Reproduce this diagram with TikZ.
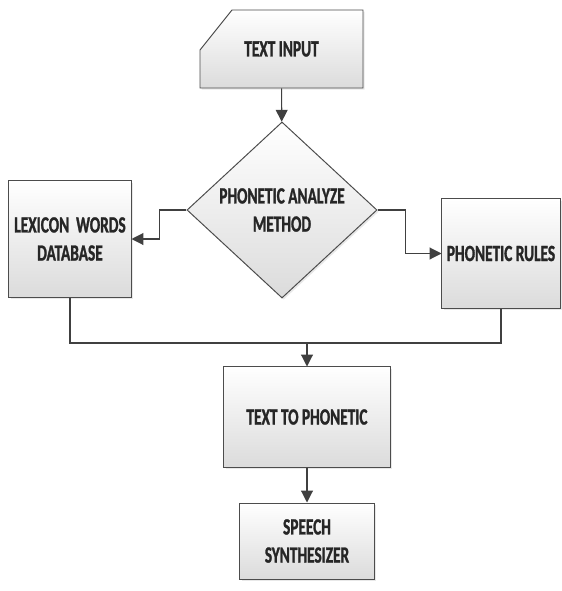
\documentclass[tikz,border=0pt]{standalone}
\usepackage{fontspec}
\setmainfont{Carlito}[FakeStretch=0.66, BoldFeatures={FakeBold=1.2}]
\usetikzlibrary{positioning,shapes.geometric,arrows.meta,shadows}

\tikzset{
  blk/.style={draw=black!70, line width=0.7pt, top color=white, bottom color=black!14,
    drop shadow={opacity=0.18, shadow xshift=1.2pt, shadow yshift=-1.2pt},
    align=center, font=\fontsize{16.5}{20}\selectfont\bfseries, text=black!85, inner sep=2pt},
  txt/.style={align=center, font=\fontsize{16.5}{20}\selectfont\bfseries, text=black!85},
  arr/.style={draw=black!75, line width=0.8pt, -{Triangle[length=8.5pt,width=8.5pt]}},
  lin/.style={draw=black!75, line width=0.8pt}
}

\begin{document}
\begin{tikzpicture}[x=0.025cm,y=-0.025cm]
\useasboundingbox (0,0) rectangle (561,591);
% card shaped input box
\coordinate (inpNW) at (200,10);
\coordinate (inpSE) at (363,88);
\path[draw=black!70, line width=0.7pt, top color=white, bottom color=black!14,
  drop shadow={opacity=0.18, shadow xshift=1.2pt, shadow yshift=-1.2pt}]
  ([xshift=0.8cm]inpNW) -- (inpNW -| inpSE) -- (inpSE)
  -- (inpNW |- inpSE) -- ([yshift=-1cm]inpNW) -- cycle;
\node[txt, minimum width=4.075cm, minimum height=1.95cm] (inp) at (281.5,49) {TEXT INPUT};
% the other boxes
\node[blk, diamond, inner sep=0pt, minimum width=4.75cm, minimum height=4.4cm] (meth) at (282,210) {PHONETIC ANALYZE\\METHOD};
\node[blk, minimum width=3.05cm, minimum height=2.9cm] (lex) at (70,239) {LEXICON\ \ WORDS\\DATABASE};
\node[blk, minimum width=2.95cm, minimum height=2.725cm] (rules) at (501,253.5) {PHONETIC RULES};
\node[blk, minimum width=4.15cm, minimum height=2.5cm] (t2p) at (307,417) {TEXT TO PHONETIC};
\node[blk, minimum width=3.35cm, minimum height=1.9cm] (synth) at (307,541) {SPEECH\\SYNTHESIZER};
% connectors
\coordinate (mrg) at (307,343);
\draw[arr] (inp) -- (meth);
\draw[arr] (meth.west) -- ++(-27,0) |- (lex.east);
\draw[arr] (meth.east) -- ++(28,0) |- (rules.west);
\draw[lin] (lex.south) |- (mrg) -| (rules.south);
\draw[arr] (mrg) -- (t2p.north);
\draw[arr] (t2p) -- (synth);
\end{tikzpicture}
\end{document}
